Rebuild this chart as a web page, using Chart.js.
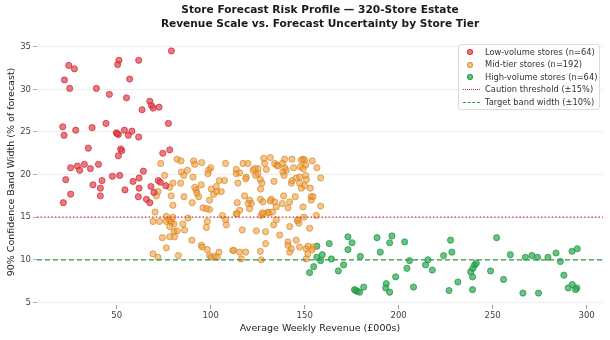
<!DOCTYPE html>
<html>
<head>
<meta charset="utf-8">
<script src="https://cdn.jsdelivr.net/npm/chart.js@4.4.1/dist/chart.umd.min.js"></script>
<style>
  html, body { margin: 0; padding: 0; background: #ffffff; }
  #wrap { position: relative; width: 610px; height: 340px; }
  #c { display: block; }
  #legend {
    position: absolute; left: 458px; top: 44px; width: 142px;
    box-sizing: border-box; padding: 1px 0 1px 0;
    background: rgba(255,255,255,0.85); border: 1px solid #dcdcdc; border-radius: 3px;
    font-family: 'DejaVu Sans', sans-serif; font-size: 8.3px; color: #333;
  }
  .row { position: relative; height: 12.4px; line-height: 12.4px; white-space: nowrap; }
  .row .txt { position: absolute; left: 26px; top: 0; }
  .row .dot { position: absolute; left: 8px; top: 3.2px; width: 6px; height: 6px; border-radius: 50%; box-sizing: border-box; }
  .row .ln { position: absolute; left: 4px; top: 6px; width: 17px; height: 0; }
</style>
</head>
<body>
<div id="wrap">
  <canvas id="c" width="610" height="340"></canvas>
  <div id="legend"></div>
</div>
<script>
// ---------------- data ----------------
const lowX = [24.5,27.5,22.2,25.0,51.2,50.5,39.2,46.1,55.2,56.9,21.3,22.0,28.2,36.9,44.3,49.8,50.9,54.1,56.2,34.9,52.1,50.9,25.5,29.1,30.3,32.8,36.0,40.3,22.9,37.4,42.2,41.3,41.3,25.5,21.6,47.7,51.6,54.4,79.1,61.7,67.6,68.5,69.3,72.5,63.5,77.5,58.1,61.7,74.5,78.2,64.2,58.7,61.9,61.9,68.2,72.1,73.2,76.1,69.8,61.5,65.8,67.6,52.7,50.3];
const lowY = [32.8,32.4,31.1,30.1,33.4,32.9,30.1,29.4,29.0,31.2,25.6,24.6,25.2,25.5,26.0,24.9,24.7,25.2,24.6,23.1,23.0,22.2,20.8,21.0,20.5,21.2,20.7,21.2,19.4,18.8,19.3,18.4,17.5,17.7,16.7,19.8,19.9,18.2,34.5,33.4,28.6,28.1,27.8,27.9,27.6,26.0,25.1,24.4,22.5,22.9,20.4,19.2,19.6,18.4,18.6,19.3,19.1,18.7,17.9,17.4,17.1,16.7,22.8,24.8];

const midX = [82.1,84.2,90.9,91.5,95.2,100.0,98.9,107.9,113.6,117.2,119.8,122.5,125.1,128.2,128.7,131.7,134.0,135.2,138.1,139.3,143.2,144.1,149.1,150.0,150.5,154.0,73.4,125.1,129.6,138.4,140.2,147.7,149.1,
  75.5,79.9,84.4,85.6,87.6,90.6,84.0,98.5,113.6,114.5,118.9,118.6,123.9,126.4,127.3,133.7,139.0,142.9,145.5,147.3,150.5,158.5,95.0,92.3,92.7,93.6,100.3,101.6,103.2,104.6,107.4,105.6,103.0,91.5,148.2,150.0,
  72.0,78.2,79.0,79.9,71.1,85.8,90.2,99.4,95.9,99.4,97.7,120.7,121.6,118.0,114.1,126.4,127.8,132.2,134.0,138.8,142.0,145.0,153.5,153.5,134.9,130.5,149.1,158.5,115.4,126.9,106.2,70.4,
  76.4,77.6,78.5,79.9,76.4,79.2,80.5,69.3,72.8,87.9,85.2,98.2,107.9,108.3,97.7,113.6,120.7,128.2,131.0,134.9,146.4,149.6,156.2,142.0,152.6,146.9,
  78.2,80.5,82.2,86.1,80.8,74.3,78.2,90.0,95.0,95.5,124.3,129.2,133.5,136.7,141.1,145.5,147.3,141.1,
  76.4,69.3,72.0,82.8,98.2,99.4,100.3,102.1,103.5,104.4,111.8,115.4,118.6,126.4,126.9,129.2,116.3,142.0,142.9,150.8,151.7,150.8,154.4,
  115.4,123.4,135.8,139.4,148.2,156.5,143.3,147.3,150.9,153.0,154.4,126.6,119.9,114.0,131.7,127.5,132.8,138.1,141.1,146.1,116.8,151.8,154.1,112.2];
const midY = [21.8,21.6,21.6,21.2,21.4,20.8,20.5,21.3,20.6,21.3,21.3,20.5,20.7,21.9,21.3,22.0,21.3,21.1,21.3,21.8,21.8,20.8,21.8,21.7,21.1,21.6,21.3,20.1,20.6,20.3,20.5,20.9,20.7,
  19.9,19.0,20.3,19.9,20.5,19.7,19.0,20.1,20.1,19.0,19.7,19.5,19.9,19.4,19.0,19.2,19.9,19.0,19.6,19.7,19.9,19.6,18.8,18.2,17.8,17.4,18.3,17.7,18.0,19.3,19.3,18.0,18.6,18.5,18.4,18.7,
  18.0,18.5,17.5,16.4,17.5,17.4,16.7,17.0,16.1,15.9,16.0,17.0,16.6,17.5,16.7,17.1,16.8,17.1,16.8,17.5,16.8,17.4,17.4,17.0,16.2,15.6,16.2,16.3,15.8,15.2,15.2,15.6,
  15.1,14.7,14.6,15.0,14.5,14.4,14.2,14.5,14.5,14.9,14.2,14.5,14.7,14.1,13.8,15.4,16.0,15.4,15.5,14.7,14.7,15.0,15.2,13.9,13.7,14.3,
  13.9,13.3,13.4,13.5,12.7,12.6,12.7,12.3,11.7,11.5,13.4,13.3,14.1,12.9,12.1,12.3,11.5,11.7,
  11.4,10.7,10.3,10.5,11.2,10.5,10.3,10.4,10.3,10.9,11.1,10.9,10.9,11.0,10.0,11.9,10.1,10.9,11.3,11.3,10.7,10.1,11.5,
  20.2,20.7,21.0,20.8,21.7,20.8,19.3,19.0,19.4,18.4,17.4,18.3,16.6,15.4,16.9,15.5,15.6,16.6,16.1,14.6,13.5,11.6,11.2,11.1];

const highX = [152.6,154.8,156.5,156.5,158.5,159.4,163.1,164.2,167.9,170.7,173.0,173.0,175.2,177.1,178.0,179.2,179.6,181.4,188.5,190.2,193.4,193.1,195.2,195.2,196.4,198.4,203.2,204.4,205.8,207.9,214.3,215.6,217.9,223.9,226.8,227.6,228.3,231.5,238.3,239.5,240.4,241.3,239.3,239.3,248.9,252.1,255.8,259.4,266.1,267.4,270.9,273.9,274.4,279.4,283.7,286.0,287.9,290.2,292.4,294.8,294.1,292.2,295.0,176.5];
const highY = [8.5,9.2,11.6,10.3,9.9,10.6,11.9,10.1,8.7,9.4,12.7,11.2,12.0,6.4,6.3,6.2,10.4,6.8,12.6,10.9,7.2,6.7,6.2,12.0,12.8,8.0,12.1,9.0,9.9,6.8,9.4,10.0,8.8,10.5,6.4,12.3,10.9,7.4,8.6,9.0,9.4,9.6,8.0,6.5,8.7,12.6,7.7,10.6,6.1,10.3,10.5,10.3,6.1,10.3,10.8,9.8,8.2,6.7,7.1,6.7,6.5,11.0,11.3,6.5];

const xTicks = [50, 100, 150, 200, 250, 300];
const yTicks = [5, 10, 15, 20, 25, 30, 35];
const cautionLevel = 15;
const targetLevel = 10;

const seriesLabels = ['Low-volume stores (n=64)', 'Mid-tier stores (n=192)', 'High-volume stores (n=64)'];
const lineLabels = ['Caution threshold (±15%)', 'Target band width (±10%)'];
const titleLines = ['Store Forecast Risk Profile \u2014 320-Store Estate', 'Revenue Scale vs. Forecast Uncertainty by Store Tier'];

// ---------------- chart ----------------
const X_MIN = 7.6, X_MAX = 308.7, Y_MIN = 4.7, Y_MAX = 35.9;
const toPts = (xs, ys) => xs.map((x, i) => ({ x: x, y: ys[i] }));

const styles = [
  { bg: 'rgba(226, 62, 72, 0.70)',  bd: 'rgba(200, 35, 45, 0.85)' },
  { bg: 'rgba(236, 156, 56, 0.58)', bd: 'rgba(214, 122, 22, 0.78)' },
  { bg: 'rgba(44, 172, 82, 0.72)',  bd: 'rgba(26, 140, 60, 0.85)' }
];
const lineStyles = [
  { color: '#d62728', dash: [1.4, 2.2] },
  { color: '#2a9a45', dash: [5, 3] }
];

Chart.defaults.font.family = "'DejaVu Sans', sans-serif";

const scatterSets = [[lowX, lowY], [midX, midY], [highX, highY]].map((s, i) => ({
  type: 'scatter',
  label: seriesLabels[i],
  data: toPts(s[0], s[1]),
  backgroundColor: styles[i].bg,
  borderColor: styles[i].bd,
  borderWidth: 0.8,
  pointRadius: 3.1,
  order: 2
}));
const lineSets = [cautionLevel, targetLevel].map((v, i) => ({
  type: 'line',
  label: lineLabels[i],
  data: [{ x: X_MIN, y: v }, { x: X_MAX, y: v }],
  borderColor: lineStyles[i].color,
  borderWidth: 1.2,
  borderDash: lineStyles[i].dash,
  pointRadius: 0,
  fill: false,
  order: 0
}));

new Chart(document.getElementById('c').getContext('2d'), {
  type: 'scatter',
  data: { datasets: scatterSets.concat(lineSets) },
  options: {
    responsive: false,
    animation: false,
    devicePixelRatio: 1,
    layout: { padding: { left: 0, right: 7, top: 0, bottom: 0 } },
    plugins: {
      legend: { display: false },
      tooltip: { enabled: false },
      title: {
        display: true,
        fullSize: false,
        text: titleLines,
        color: '#1a1a1a',
        font: { size: 10.6, weight: 'bold', lineHeight: 1.25 },
        padding: { top: 4, bottom: 8.5 }
      }
    },
    scales: {
      x: {
        type: 'linear', min: X_MIN, max: X_MAX,
        afterBuildTicks: (s) => { s.ticks = xTicks.map(v => ({ value: v })); },
        afterFit: (s) => { s.height = 35; },
        grid: { color: 'rgba(0,0,0,0)', tickColor: '#9a9a9a', tickLength: 4, drawTicks: true },
        border: { display: false },
        ticks: { color: '#444', font: { size: 8.5 }, padding: 2, maxRotation: 0 },
        title: { display: true, text: 'Average Weekly Revenue (£000s)', color: '#222', font: { size: 9.5 }, padding: { top: 0, bottom: 6 } }
      },
      y: {
        type: 'linear', min: Y_MIN, max: Y_MAX,
        afterBuildTicks: (s) => { s.ticks = yTicks.map(v => ({ value: v })); },
        afterFit: (s) => { s.width = 37; },
        grid: { color: 'rgba(0,0,0,0.085)', lineWidth: 0.8, tickColor: '#9a9a9a', tickLength: 4, drawTicks: true },
        border: { display: false },
        ticks: { color: '#444', font: { size: 8.5 }, padding: 2 },
        title: { display: true, text: '90% Confidence Band Width (% of forecast)', color: '#222', font: { size: 9.5 }, padding: { top: 6, bottom: 0 } }
      }
    }
  }
});

// ---------------- legend (HTML, built from the dataset definitions) ----------------
const legend = document.getElementById('legend');
scatterSets.forEach((d) => {
  const r = document.createElement('div'); r.className = 'row';
  const m = document.createElement('span'); m.className = 'dot';
  m.style.background = d.backgroundColor; m.style.border = '0.8px solid ' + d.borderColor;
  const t = document.createElement('span'); t.className = 'txt'; t.textContent = d.label;
  r.appendChild(m); r.appendChild(t); legend.appendChild(r);
});
lineSets.forEach((d, i) => {
  const r = document.createElement('div'); r.className = 'row';
  const m = document.createElement('span'); m.className = 'ln';
  m.style.borderTop = '1.2px ' + (i === 0 ? 'dotted ' : 'dashed ') + d.borderColor;
  const t = document.createElement('span'); t.className = 'txt'; t.textContent = d.label;
  r.appendChild(m); r.appendChild(t); legend.appendChild(r);
});
</script>
</body>
</html>
